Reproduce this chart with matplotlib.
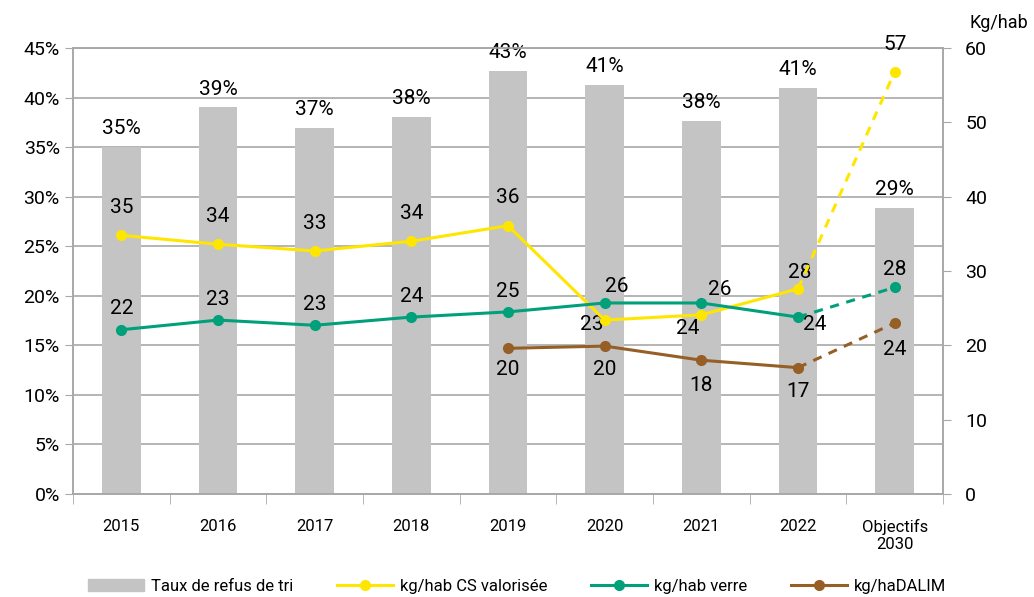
import numpy as np
import matplotlib
matplotlib.use("Agg")
import matplotlib.pyplot as plt
from matplotlib.lines import Line2D
from matplotlib.patches import Patch

plt.rcParams["font.family"] = ["Roboto", "DejaVu Sans"]

categories = ["2015", "2016", "2017", "2018", "2019", "2020", "2021", "2022", "Objectifs\n2030"]
refus = [35.0, 39.0, 36.9, 38.0, 42.7, 41.3, 37.6, 41.0, 28.9]
refus_labels = ["35%", "39%", "37%", "38%", "43%", "41%", "38%", "41%", "29%"]
cs = [34.8, 33.6, 32.7, 34.0, 36.1, 23.4, 24.1, 27.6, 56.8]
cs_labels = ["35", "34", "33", "34", "36", "23", "24", "28", "57"]
verre = [22.1, 23.4, 22.7, 23.8, 24.5, 25.7, 25.7, 23.8, 27.8]
verre_labels = ["22", "23", "23", "24", "25", "26", "26", "24", "28"]
dalim = [np.nan, np.nan, np.nan, np.nan, 19.6, 19.9, 18.0, 17.0, 23.0]
dalim_labels = ["", "", "", "", "20", "20", "18", "17", "24"]

c_bar = "#C4C4C4"
c_cs = "#FFE600"
c_verre = "#00A07A"
c_dalim = "#955F26"
c_grid = "#A8A8A8"

x = np.arange(len(categories))

fig = plt.figure(figsize=(10.34, 5.97), dpi=100)
ax = fig.add_axes([0.0706, 0.1725, 0.8414, 0.7471])
ax2 = ax.twinx()

ax.bar(x, refus, width=0.4, color=c_bar, zorder=2)
for xi, v, lab in zip(x, refus, refus_labels):
    ax.text(xi, v + 0.9, lab, ha="center", va="bottom", fontsize=15)

ax.set_xlim(-0.5, 8.5)
ax.set_ylim(0, 45)
ax.set_yticks(np.arange(0, 46, 5))
ax.set_yticklabels([f"{v}%" for v in range(0, 46, 5)], fontsize=14)
ax.yaxis.grid(True, color=c_grid, linewidth=1.2, zorder=0)
ax.set_axisbelow(True)
ax.set_xticks(x)
ax.set_xticklabels(categories, fontsize=12)
ax.set_xticks(np.arange(-0.5, 9, 1), minor=True)
ax.tick_params(axis="x", which="major", length=0, pad=18)
ax.tick_params(axis="x", which="minor", length=7, color=c_grid)
ax.tick_params(axis="y", length=6, color=c_grid)

for a in (ax, ax2):
    for s in a.spines.values():
        s.set_color(c_grid)
        s.set_linewidth(1.2)

# lines on secondary axis: solid until 2022, dashed to the 2030 target
def draw(vals, color):
    ax2.plot(x[:8], vals[:8], color=color, lw=2.2, marker="o", ms=7, zorder=4)
    ax2.plot(x[7:], vals[7:], color=color, lw=2.2, ls=(0, (3, 2.5)), marker="o", ms=7,
             markevery=[1], zorder=4)

draw(cs, c_cs)
draw(verre, c_verre)
draw(dalim, c_dalim)

ax2.set_ylim(0, 60)
ax2.set_yticks(np.arange(0, 61, 10))
ax2.tick_params(axis="y", labelsize=14, length=6, color=c_grid, pad=10)
ax2.text(1.03, 1.035, "Kg/hab", transform=ax.transAxes, ha="left", va="bottom", fontsize=13)

# data labels
cs_off = [(0, 20), (0, 20), (0, 20), (0, 20), (0, 20), (-9, -3), (-10, -10), (1, 12), (0, 20)]
verre_off = [(0, 15), (0, 15), (0, 15), (0, 15), (0, 15), (9, 12), (13, 10), (12, -5), (0, 13)]
dalim_off = [(0, -15), (0, -15), (0, -15), (0, -15), (0, -15), (0, -17), (0, -18), (0, -17), (0, -19)]
for vals, labs, offs in ((cs, cs_labels, cs_off), (verre, verre_labels, verre_off), (dalim, dalim_labels, dalim_off)):
    for xi, v, lab, off in zip(x, vals, labs, offs):
        if lab:
            ax2.annotate(lab, (xi, v), xytext=off, textcoords="offset points",
                         ha="center", va="center", fontsize=15)

handles = [
    Patch(color=c_bar),
    Line2D([], [], color=c_cs, lw=2.2, marker="o", ms=7),
    Line2D([], [], color=c_verre, lw=2.2, marker="o", ms=7),
    Line2D([], [], color=c_dalim, lw=2.2, marker="o", ms=7),
]
labels = ["Taux de refus de tri", "kg/hab CS valorisée", "kg/hab verre", "kg/haDALIM"]
fig.legend(handles, labels, loc="lower center", bbox_to_anchor=(0.5, -0.02), ncol=4,
           frameon=False, fontsize=12, handlelength=3.4, handletextpad=0.4,
           columnspacing=2.6)

fig.savefig("out.png", dpi=100)
